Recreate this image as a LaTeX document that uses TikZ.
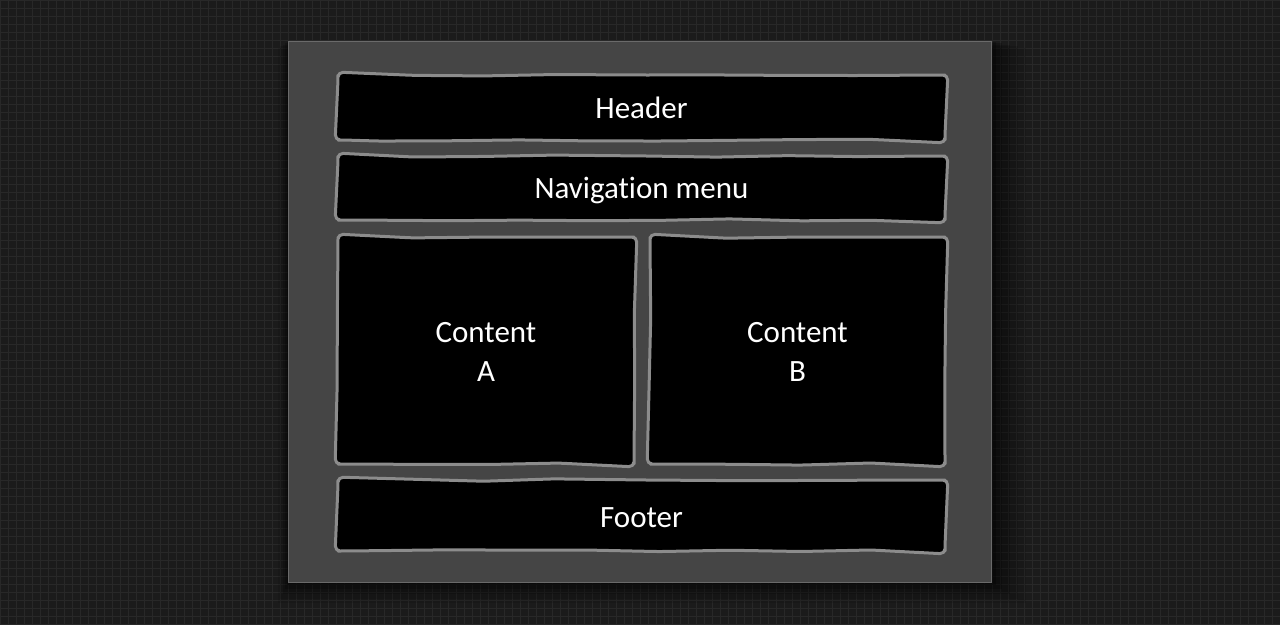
\documentclass[tikz,border=0pt]{standalone}
\usepackage{fontspec}
\setmainfont{Carlito}[RawFeature=-liga]
\usetikzlibrary{decorations.pathmorphing}
\definecolor{bgc}{HTML}{1B1B1B}
\definecolor{gridc}{HTML}{282828}
\definecolor{panelc}{HTML}{454545}
\definecolor{panelb}{HTML}{6A6A6A}
\definecolor{boxb}{HTML}{8C8C8C}
\tikzset{
  sk/.style={fill=black, draw=boxb, line width=3pt, line join=round, line cap=round,
    decorate, decoration={random steps, segment length=70pt, amplitude=1.3pt},
    rounded corners=5pt},
  lbl/.style={text=white, font=\fontsize{31}{39}\selectfont, align=center, inner sep=0pt},
}
\newcommand{\skbox}[4]{%
  \path[sk] ({(#1+#3)/2},#2) -- (#3,#2) -- (#3,#4) -- (#1,#4) -- (#1,#2) -- cycle;}
\begin{document}
\begin{tikzpicture}[x=1pt,y=-1pt]
\pgfmathsetseed{11}
\fill[bgc] (0,0) rectangle (1280,624);
\useasboundingbox (0,0) rectangle (1280,624);
\draw[gridc, line width=1pt] (0,0) grid[step=8pt] (1280,624);
% shadow
\foreach \d/\o in {34/0.10,26/0.12,18/0.15,10/0.2,4/0.25}{
  \fill[black, opacity=\o] (288-\d*0.3,41+\d*0.2) rectangle (992+\d,583+\d*0.6);
}
\fill[panelc] (288,41) rectangle (992,583);
\draw[panelb, line width=1.2pt] (288.5,41.5) rectangle (991.5,582.5);
\skbox{338}{75}{945}{140}
\skbox{338}{156}{945}{220}
\skbox{338}{237}{634}{464}
\skbox{650}{237}{945}{464}
\skbox{338}{480}{945}{551}
\node[lbl] (header) at (641.5,108) {Header};
\node[lbl] (nav) at (641.5,190) {Navigation menu};
\node[lbl] (ca) at (486,352) {Content\\A};
\node[lbl] (cb) at (797.5,352) {Content\\B};
\node[lbl] (footer) at (641.5,518) {Footer};
\end{tikzpicture}
\end{document}
